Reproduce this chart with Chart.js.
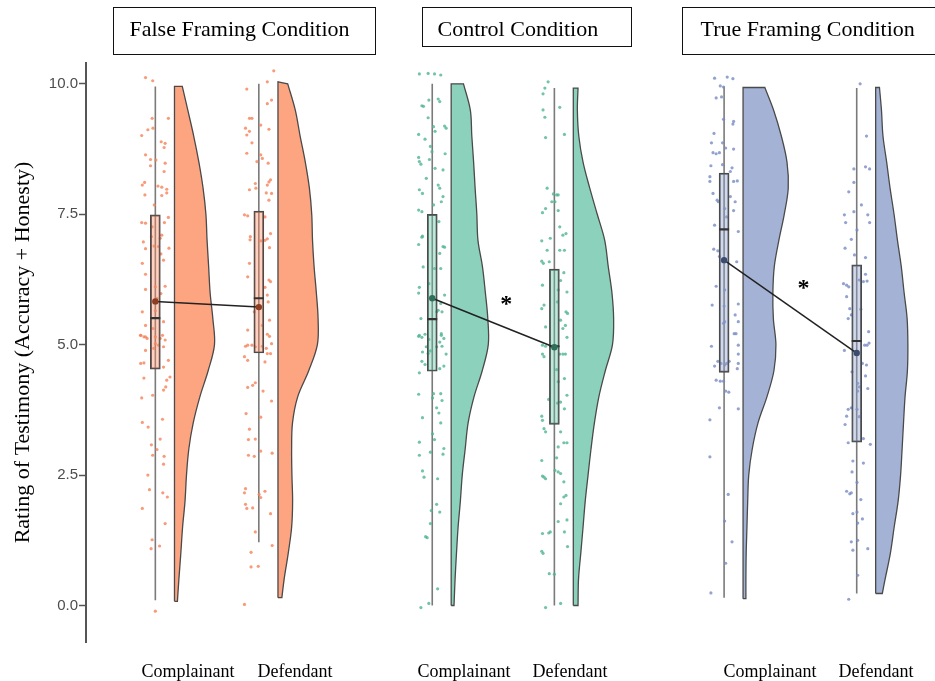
<!DOCTYPE html>
<html>
<head>
<meta charset="utf-8">
<script src="https://cdn.jsdelivr.net/npm/chart.js@4.4.1/dist/chart.umd.min.js"></script>
<style>
  body { margin: 0; background: #fff; }
  #page { position: relative; width: 935px; height: 681px; overflow: hidden; font-family: "Liberation Serif", "Times New Roman", serif; }
  canvas { position: absolute; top: 0; }
  .title { position: absolute; top: 7px; box-sizing: border-box; border: 1.5px solid #111; font-size: 22px; line-height: 24px; padding-top: 8.6px; white-space: nowrap; color: #000; }
  .role { position: absolute; top: 662px; font-size: 18px; line-height: 18px; white-space: nowrap; transform: translateX(-50%); color: #000; }
</style>
</head>
<body>
<div id="page"></div>
<script>
const conditions = ["False Framing Condition", "Control Condition", "True Framing Condition"];
const roles = ["Complainant", "Defendant"];
const rolePositions = [1, 2];
const yTicks = [0, 2.5, 5, 7.5, 10];

// box plot summaries, [complainant, defendant] per condition
const whiskerLow  = [[0.10, 1.21], [0.00, 0.00], [0.15, 0.23]];
const quartile1   = [[4.53, 4.84], [4.49, 3.47], [4.47, 3.13]];
const medians     = [[5.51, 5.89], [5.49, 4.97], [7.21, 5.07]];
const quartile3   = [[7.49, 7.56], [7.50, 6.45], [8.29, 6.53]];
const whiskerHigh = [[9.95, 10.0], [10.0, 9.92], [9.95, 9.92]];
const means       = [[5.83, 5.72], [5.89, 4.95], [6.62, 4.84]];
const significant = [false, true, true];

// half-violin densities sampled on densityGrid, cut at the data range
const densityGrid = [0, 0.5, 1, 1.5, 2, 2.5, 3, 3.5, 4, 4.5, 5, 5.5, 6, 6.5, 7, 7.5, 8, 8.5, 9, 9.5, 10];
const violinLow  = [[0.08, 0.15], [0.0, 0.0], [0.13, 0.23]];
const violinHigh = [[9.95, 10.04], [10.0, 9.92], [9.93, 9.93]];
const densFalseC   = [0.03,0.045,0.065,0.083,0.108,0.123,0.147,0.192,0.26,0.345,0.41,0.393,0.365,0.35,0.334,0.322,0.293,0.25,0.197,0.136,0.08];
const densFalseD   = [0.04,0.063,0.105,0.14,0.15,0.143,0.14,0.149,0.202,0.315,0.404,0.411,0.393,0.37,0.354,0.346,0.322,0.28,0.227,0.177,0.10];
const densControlC = [0.03,0.041,0.056,0.073,0.097,0.117,0.148,0.179,0.241,0.328,0.392,0.387,0.361,0.33,0.283,0.271,0.253,0.237,0.218,0.202,0.13];
const densControlD = [0.05,0.055,0.079,0.103,0.126,0.156,0.187,0.223,0.27,0.338,0.414,0.426,0.408,0.369,0.332,0.253,0.174,0.103,0.058,0.043,0.05];
const densTrueC    = [0.03,0.03,0.033,0.041,0.049,0.06,0.097,0.158,0.252,0.326,0.347,0.32,0.315,0.33,0.378,0.435,0.477,0.464,0.404,0.322,0.23];
const densTrueD    = [0.07,0.099,0.155,0.195,0.237,0.263,0.279,0.294,0.31,0.335,0.34,0.332,0.30,0.27,0.23,0.194,0.152,0.116,0.077,0.061,0.04];

// individual ratings (raw points) and their horizontal jitter (-1..1)
const falseC = [10.12,10.06,9.34,9.34,9.01,9.12,9.15,8.89,8.86,8.78,8.55,8.64,8.54,8.48,8.43,8.32,8.11,8.06,8.04,8.02,7.98,7.87,7.86,7.91,7.68,7.44,7.34,7.33,7.34,7.26,7.07,7.10,7.04,6.88,6.89,6.97,6.85,6.84,6.56,6.62,6.74,6.35,6.11,6.12,5.98,5.89,6.06,5.63,5.65,5.37,5.31,5.44,5.18,5.15,
  5.18,5.15,5.12,5.15,5.12,5.09,5.18,4.89,5.02,4.99,4.96,4.93,4.64,4.65,4.70,4.57,4.36,4.38,4.32,4.13,4.19,3.98,4.03,3.57,3.51,3.42,3.19,3.08,2.99,2.88,2.86,2.71,2.50,2.22,2.16,2.08,1.86,1.57,1.26,1.09,1.14,-0.11];
const jitFalseC = [-0.67,-0.18,0.89,-0.22,-0.93,-0.51,-0.16,0.4,0.67,0.6,-0.33,-0.67,0.04,0.67,-0.33,0.6,-0.73,-0.89,0.18,0.44,0.78,-0.71,0.44,0.78,-0.07,0.89,-0.93,-0.67,0.62,-0.22,-0.27,0.44,0.33,0.22,-0.09,-0.82,0.93,-0.67,-0.89,0.56,0.38,-0.67,0,0.67,0.38,0.11,-0.67,-0.89,0,-0.67,-0.16,0.56,-1,-0.67,
  -1,-0.78,-0.56,0,0.33,0.67,0.49,-0.67,0,0.22,0.56,-0.11,-1,-0.78,0.89,0.56,-0.78,1,0.78,0.56,0.71,-0.93,-0.18,0.49,-0.89,-0.49,0.33,-0.27,0.11,-0.18,0.6,0.56,-0.51,-0.4,0.51,0.82,-0.89,0.67,-0.22,-0.29,0.29,0];

const falseD = [10.25,10.04,9.90,9.69,9.62,9.34,9.34,9.21,9.15,9.09,9.02,9.13,8.87,8.67,8.64,8.57,8.51,8.48,8.16,8.12,8.06,8.09,8.00,7.97,7.91,7.90,7.77,7.49,7.47,7.45,7.13,7.07,7.01,7.03,7.00,6.99,6.86,6.56,6.24,6.21,6.10,5.95,6.30,5.82,5.63,5.47,5.37,5.28,
  5.20,5.16,4.97,4.99,4.99,4.96,4.97,4.93,5.02,4.77,4.70,4.83,4.67,4.83,4.18,4.22,4.27,4.11,3.92,3.68,3.61,3.38,3.18,3.19,2.96,2.88,2.86,2.92,2.24,2.16,2.13,2.19,2.07,1.94,1.86,1.87,1.76,1.41,1.15,1.02,0.74,0.75,0.02];
const jitFalseD = [1.02,0.58,-0.82,0.87,0.58,-0.64,-0.47,0.13,-0.91,-0.64,-0.82,0.69,-0.47,-0.82,0.13,0.24,-0.13,0.64,0.8,0.69,0.58,-0.24,-0.2,-0.64,0.51,0.87,0.69,-0.98,-0.76,0.42,0.8,-0.58,-0.6,0.58,0.42,0.13,0.73,-0.64,0.69,0.8,0.42,0.58,-0.76,0.64,-0.31,0.73,0.24,-0.76,
  0.58,0.73,-0.91,-0.76,-0.47,-0.24,0.24,0.51,0.87,-0.98,-0.76,0.58,0.42,0.8,-0.76,-0.42,-0.24,0.29,0.87,-0.87,0.13,-0.64,-0.71,-0.24,0.13,-0.71,-0.31,0.91,-0.91,-0.98,0.02,0.42,0.13,-0.91,-0.82,-0.42,0.8,-0.24,0.91,-0.53,-0.53,-0.04,-0.98];

const controlC = [10.19,10.20,10.19,10.17,9.71,9.66,9.69,9.58,9.57,9.35,9.18,9.09,9.19,9.15,9.03,8.94,8.80,8.70,8.59,8.51,8.46,8.55,8.66,8.38,8.35,8.19,8.06,8.00,7.97,7.90,7.84,7.74,7.58,7.55,7.68,7.36,7.08,7.06,6.88,6.87,6.92,6.75,6.49,6.46,6.46,6.17,6.10,5.99,5.95,5.63,5.66,5.79,5.50,5.18,5.63,5.21,
  5.16,5.14,5.20,5.10,5.18,5.12,5.05,4.96,4.88,4.86,4.83,4.96,4.97,4.82,4.68,4.62,4.59,4.54,4.46,4.05,4.06,4.06,3.98,3.93,3.79,3.69,3.60,3.50,3.29,3.18,3.13,2.88,2.94,3.01,2.90,2.58,2.46,2.43,1.94,1.79,1.82,1.57,1.32,1.30,0.32,0.04,-0.04];
const jitControlC = [-0.91,-0.29,0.16,0.6,0.42,0.53,-0.24,-0.73,-0.62,-0.29,0.09,0.2,0.87,0.98,-0.96,-0.51,-0.13,-0.02,-0.96,-0.91,-0.8,-0.2,0.91,0.2,0.76,-0.42,0.42,0.53,-0.91,-0.69,0.76,0.64,-0.96,-0.73,0.09,0.47,-0.69,-0.73,0.76,0.87,-0.96,0.53,-0.64,0.16,0.6,-0.24,-0.91,-0.96,0.87,0.31,0.42,0.6,-0.8,-0.91,0.69,0.64,
  -0.96,-0.73,-0.51,-0.24,0.64,0.82,0.53,-0.42,-0.13,-0.69,-0.29,0.31,0.69,0.98,-0.73,-0.51,0.82,0.53,-0.91,-0.96,0.09,0.6,0.02,0.69,0.31,0.47,-0.69,0.6,0.02,0.16,-0.91,-0.91,-0.13,0.82,0.76,-0.69,-0.58,0.38,0.31,0.53,-0.07,-0.13,-0.47,-0.36,0.38,-0.24,-0.8];

const controlD = [10.04,9.92,9.81,9.55,9.50,9.36,8.97,9.03,8.00,7.89,7.87,7.87,7.74,7.74,7.53,7.61,7.57,7.26,7.04,7.10,7.13,6.99,6.81,6.81,6.81,6.60,6.56,6.59,6.38,6.23,6.14,6.05,6.01,5.82,5.63,5.60,5.76,5.69,5.47,5.34,5.37,5.31,
  5.14,4.99,4.97,4.97,4.98,4.97,4.82,4.77,4.82,4.82,4.82,4.52,4.29,4.35,3.95,3.90,3.88,4.03,3.77,3.63,3.55,3.39,3.33,3.33,3.12,3.12,3.04,2.83,2.78,2.59,2.56,2.53,2.48,2.46,2.43,2.37,2.11,2.08,1.95,1.61,1.64,1.38,1.39,1.41,1.41,1.13,1.04,1.00,0.61,0.60,0.04,-0.04];
const jitControlD = [-0.44,-0.67,-0.8,0.38,-0.8,-0.67,-0.62,0.71,-0.51,-0.07,0.16,0.27,-0.18,0.04,-0.84,-0.62,0.27,0.38,-0.29,0.6,0.82,-0.89,-0.51,0.38,0.71,-0.89,-0.78,-0.36,0.67,0.44,-0.84,0.27,0.89,0.22,0.82,0.93,-0.73,-0.89,0.44,-0.62,0.78,0.6,
  0.89,-0.84,-0.62,-0.18,0.04,0.27,-0.84,-0.73,0.38,0.6,0.78,0.16,0.27,0.71,-0.4,0.44,0.22,0.89,0.71,-0.89,-0.84,-0.73,-0.62,0.44,0.67,0.89,0.27,0.16,-0.89,0.04,0.27,0.44,-0.84,-0.73,-0.62,0.67,0.82,0.67,0.44,0.27,0.89,-0.84,-0.4,-0.29,0.71,0.93,-0.89,-0.8,-0.36,0,0.44,-0.62];

const trueC = [10.11,10.13,10.10,9.96,9.94,9.73,9.75,9.32,9.28,9.23,9.05,8.87,8.87,8.75,8.68,8.66,8.68,8.77,8.43,8.45,8.39,8.32,8.22,8.13,8.13,8.14,7.90,7.77,7.74,7.84,7.74,7.61,7.57,7.45,7.29,7.17,6.83,6.80,6.69,6.59,6.12,6.05,5.76,5.74,5.78,5.57,5.41,5.44,5.44,5.21,
  5.21,4.97,4.99,4.82,4.64,4.54,4.59,4.68,4.64,4.61,4.64,4.68,4.32,4.30,4.30,4.11,4.09,3.79,3.77,3.56,2.85,2.13,1.62,1.22,0.81,0.24];
const jitTrueC = [-0.67,0.22,0.62,-0.27,-0.04,-0.56,-0.18,-0.04,0.67,0.62,-0.71,-0.89,-0.11,0.67,-0.78,-0.56,-0.33,0.11,-0.93,-0.11,0.56,0.44,-1,-1,0.67,0.93,-0.78,-0.49,-0.4,0.44,0.78,0.04,0.67,0.18,-0.67,1,-0.73,-0.44,-0.33,0.89,-0.56,0.04,-0.84,0,1,0.78,-0.04,0.04,1,0.84,
  0.71,-0.89,1,1,1,0.93,-0.67,-0.44,-0.22,0.04,0.18,0.36,-0.56,-0.27,-0.04,0.11,0.33,-0.33,1,-1,-1,0.29,0.04,0.56,0.11,-0.93];

const trueD = [10.0,9.00,8.37,8.11,8.41,8.37,7.93,7.49,7.34,7.55,7.68,7.49,7.34,7.20,7.02,6.85,6.72,6.67,6.35,6.24,6.21,6.22,6.17,6.14,6.11,5.92,5.69,5.57,5.50,5.68,5.25,
  4.89,4.99,4.99,5.03,4.64,4.61,4.48,4.40,4.26,4.19,4.11,4.16,3.79,3.76,3.63,3.47,3.76,3.62,3.20,3.09,3.12,2.77,2.56,2.73,2.36,2.19,2.14,2.16,2.03,1.76,1.79,1.66,1.58,1.22,1.06,1.25,1.09,0.58,0.12];
const jitTrueD = [0.24,0.69,-0.2,-0.2,0.62,0.91,-0.56,-0.87,-0.78,-0.2,0.33,0.78,0.91,0.02,-0.38,-0.82,-0.16,0.62,0.62,0.18,0.47,0.73,-0.93,-0.71,-0.56,-0.71,-0.49,-0.38,-0.6,0.29,0.84,
  -0.87,0.56,0.73,0.87,0.4,0.69,-0.33,0.62,0.07,0.18,0.07,0.78,-0.38,-0.6,-0.71,-0.82,0.02,0.18,0.47,0.96,-0.6,-0.27,-0.33,0.47,0.02,-0.71,-0.49,-0.38,0.29,-0.27,0.02,0.4,0.07,-0.38,-0.27,0.07,0.78,0.07,-0.56];

const ratings   = [[falseC, falseD], [controlC, controlD], [trueC, trueD]];
const jitters   = [[jitFalseC, jitFalseD], [jitControlC, jitControlD], [jitTrueC, jitTrueD]];
const densities = [[densFalseC, densFalseD], [densControlC, densControlD], [densTrueC, densTrueD]];

// layout of the three facets
const panels = [
  { left: 0,   width: 390, xMin: 0.330, xMax: 3.198, violinOffset: 0.185, violinScale: 0.943, jitterWidth: 0.1415,
    title: { left: 113, width: 263, height: 48, pad: 15.5 }, roleX: [188, 295] },
  { left: 390, width: 270, xMin: 0.713, xMax: 2.806, violinOffset: 0.155, violinScale: 0.775, jitterWidth: 0.116,
    title: { left: 422, width: 210, height: 40, pad: 14.5 }, roleX: [464, 570] },
  { left: 660, width: 275, xMin: 0.571, xMax: 2.536, violinOffset: 0.143, violinScale: 0.714, jitterWidth: 0.107,
    title: { left: 682, width: 262, height: 48, pad: 17.5 }, roleX: [770, 876] }
];
const colors = [
  { point: "rgba(245,130,90,0.8)",  violin: "rgba(252,141,98,0.8)",  box: "rgba(252,141,98,0.4)",  mean: "#8c3d22" },
  { point: "rgba(80,180,148,0.8)",  violin: "rgba(102,194,165,0.75)", box: "rgba(102,194,165,0.4)", mean: "#2f6e58" },
  { point: "rgba(120,140,195,0.8)", violin: "rgba(141,160,203,0.8)", box: "rgba(141,160,203,0.4)", mean: "#3c4b70" }
];

// closed outline of a half violin; corners doubled so the curve stays sharp there
function violinOutline(left, low, high, dens, scale) {
  const pts = [];
  const corner = (x, y) => { pts.push({ x, y }, { x, y }); };
  corner(left, low);
  densityGrid.forEach((g, i) => {
    const y = Math.min(Math.max(g, low), high);
    const x = left + dens[i] * scale;
    if (i === 0 || i === densityGrid.length - 1) corner(x, y);
    else pts.push({ x, y });
  });
  corner(left, high);
  corner(left, low);
  return pts;
}

const asteriskPlugin = {
  id: "asterisk",
  afterDatasetsDraw(chart, args, opts) {
    if (!opts.show) return;
    const x = chart.scales.x, y = chart.scales.y, ctx = chart.ctx;
    const cx = (x.getPixelForValue(rolePositions[0]) + x.getPixelForValue(rolePositions[1])) / 2 + 13;
    const cy = (y.getPixelForValue(opts.means[0]) + y.getPixelForValue(opts.means[1])) / 2 - 23;
    ctx.save();
    ctx.font = 'bold 24px "Liberation Serif"';
    ctx.fillStyle = "#000";
    ctx.textAlign = "center";
    ctx.textBaseline = "alphabetic";
    ctx.fillText("*", cx, cy + 11);
    ctx.restore();
  }
};

const page = document.getElementById("page");

panels.forEach((P, p) => {
  const col = colors[p];
  const canvas = document.createElement("canvas");
  canvas.width = P.width; canvas.height = 681;
  canvas.style.left = P.left + "px";
  page.appendChild(canvas);

  const ds = [];
  rolePositions.forEach((pos, g) => {
    ds.push({ type: "line", order: 1, showLine: true, fill: "shape", tension: 0.35, pointRadius: 0,
      data: violinOutline(pos + P.violinOffset, violinLow[p][g], violinHigh[p][g], densities[p][g], P.violinScale),
      backgroundColor: col.violin, borderColor: "#4a4a4a", borderWidth: 1.3 });
    ds.push({ type: "line", order: 6, showLine: true, fill: false, pointRadius: 0,
      data: [{ x: pos, y: whiskerLow[p][g] }, { x: pos, y: whiskerHigh[p][g] }],
      borderColor: "#7a7a7a", borderWidth: 1.6 });
    ds.push({ type: "scatter", order: 5,
      data: ratings[p][g].map((v, i) => ({ x: pos + jitters[p][g][i] * P.jitterWidth, y: v })),
      pointRadius: 1.6, pointBackgroundColor: col.point, pointBorderWidth: 0 });
  });
  ds.push({ type: "bar", order: 4, barThickness: 10, borderSkipped: false,
    data: rolePositions.map((pos, g) => ({ x: pos, y: [quartile1[p][g], quartile3[p][g]] })),
    backgroundColor: col.box, borderColor: "#4a4a4a", borderWidth: 1.3 });
  ds.push({ type: "scatter", order: 3,
    data: rolePositions.map((pos, g) => ({ x: pos, y: medians[p][g] })),
    pointStyle: "line", pointRadius: 5, pointBorderColor: "#333", pointBorderWidth: 2.2 });
  ds.push({ type: "line", order: 0, showLine: true, fill: false,
    data: rolePositions.map((pos, g) => ({ x: pos, y: means[p][g] })),
    borderColor: "#222", borderWidth: 1.5, pointRadius: 3.2,
    pointBackgroundColor: col.mean, pointBorderColor: col.mean, pointBorderWidth: 0 });

  const yAxis = {
    type: "linear", min: -0.7, max: 10.4, display: p === 0,
    afterBuildTicks: s => { s.ticks = yTicks.map(v => ({ value: v })); },
    ticks: { padding: 1, color: "#4d4d4d", font: { family: "Liberation Sans", size: 15 }, callback: v => v.toFixed(1) },
    grid: { display: true, drawOnChartArea: false, drawTicks: true, tickLength: 7, tickColor: "#555", tickWidth: 1.5 },
    border: { display: true, color: "#555", width: 2 },
    title: { display: true, text: "Rating of Testimony (Accuracy + Honesty)", color: "#000",
      font: { family: "Liberation Serif", size: 22 }, padding: { top: 10, bottom: 0 } }
  };
  if (p === 0) yAxis.afterFit = s => { s.width = 86; };

  new Chart(canvas, {
    type: "scatter",
    data: { datasets: ds },
    plugins: [asteriskPlugin],
    options: {
      responsive: false,
      animation: false,
      events: [],
      layout: { padding: { top: 63, bottom: 39, left: 0, right: 0 } },
      plugins: {
        legend: { display: false },
        tooltip: { enabled: false },
        asterisk: { show: significant[p], means: means[p] }
      },
      scales: {
        x: { type: "linear", min: P.xMin, max: P.xMax, display: false, offset: false },
        y: yAxis
      }
    }
  });

  const t = document.createElement("div");
  t.className = "title";
  t.textContent = conditions[p];
  Object.assign(t.style, { left: P.title.left + "px", width: P.title.width + "px", height: P.title.height + "px", paddingLeft: P.title.pad + "px" });
  page.appendChild(t);

  roles.forEach((r, g) => {
    const d = document.createElement("div");
    d.className = "role";
    d.textContent = r;
    d.style.left = P.roleX[g] + "px";
    page.appendChild(d);
  });
});
</script>
</body>
</html>
